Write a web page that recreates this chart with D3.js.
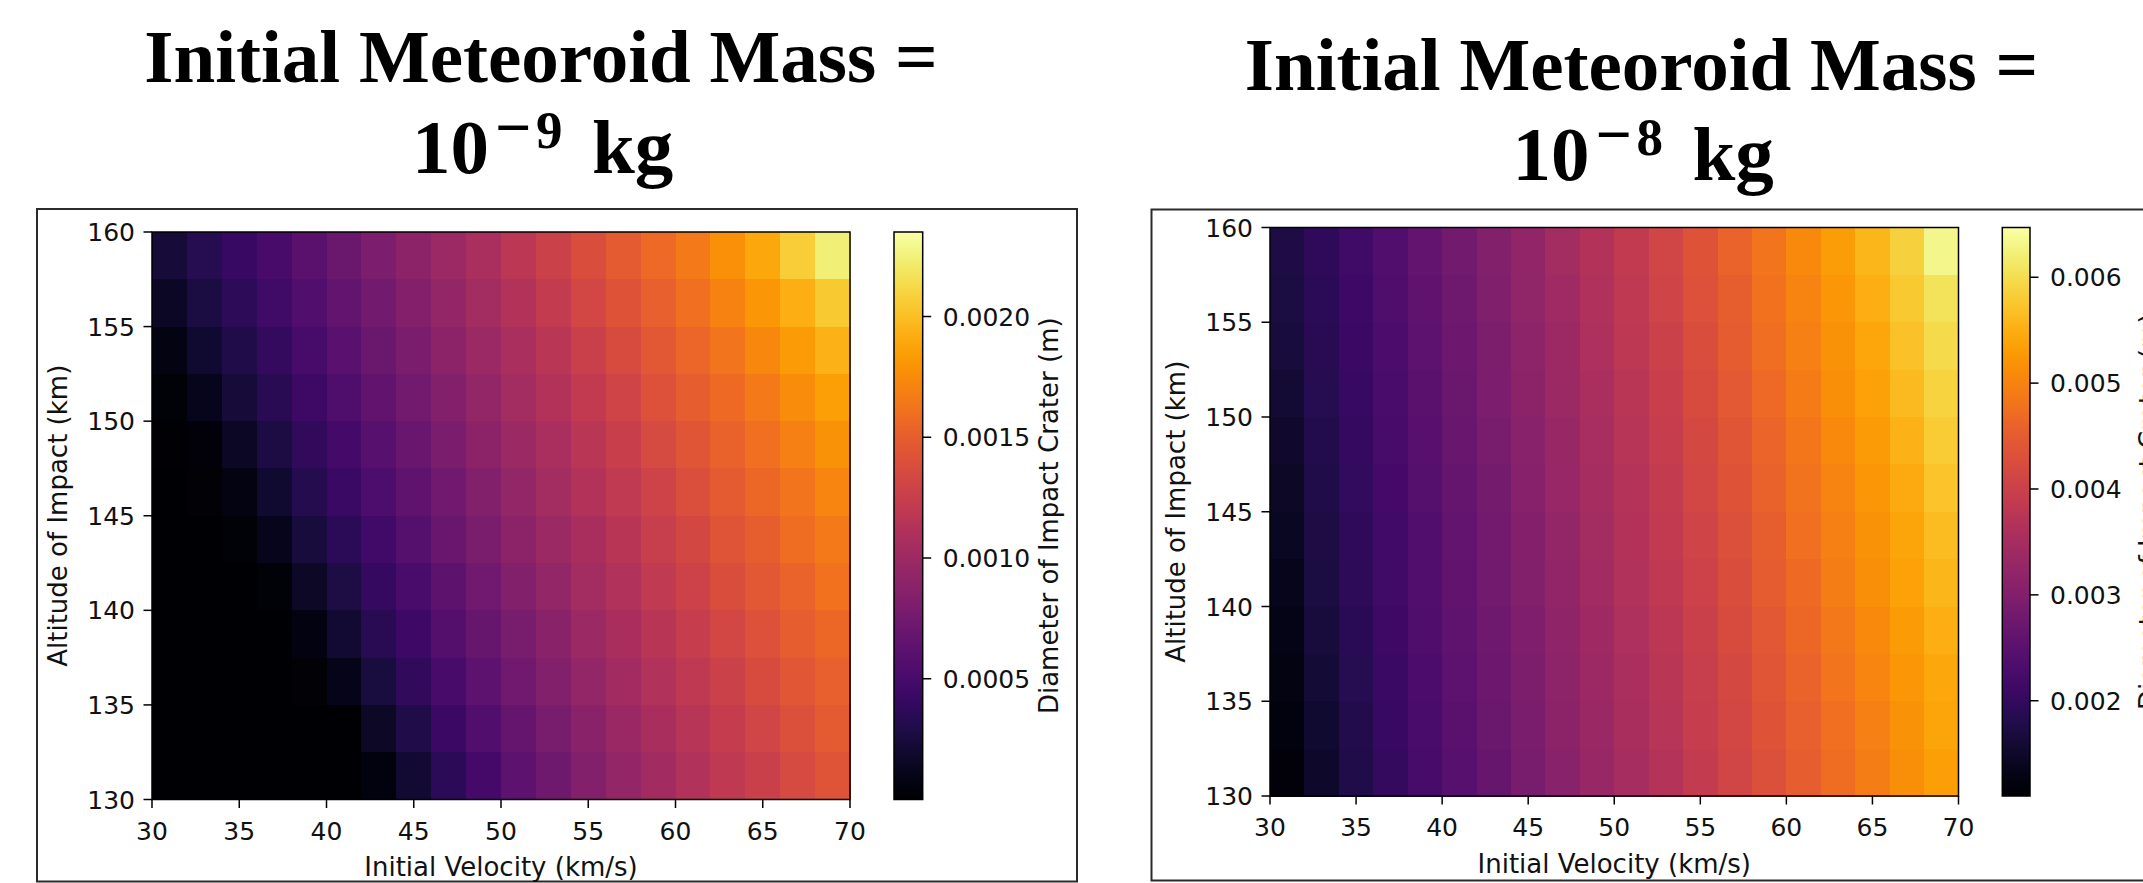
<!DOCTYPE html>
<html>
<head>
<meta charset="utf-8">
<script src="https://cdn.jsdelivr.net/npm/d3@7"></script>
<style>
  body { margin: 0; background: #fff; }
  text { font-family: "DejaVu Sans", sans-serif; fill: #111; }
  .title text { font-family: "Liberation Serif", "Times New Roman", serif; font-weight: bold; fill: #000; }
</style>
</head>
<body>
<svg id="fig" width="2143" height="883"></svg>
<script>
// cell centres of the grid (km/s and km)
const velocities = [31, 33, 35, 37, 39, 41, 43, 45, 47, 49, 51, 53, 55, 57, 59, 61, 63, 65, 67, 69];
const altitudes = [158.75, 156.25, 153.75, 151.25, 148.75, 146.25, 143.75, 141.25, 138.75, 136.25, 133.75, 131.25];

const xTicks = [30, 35, 40, 45, 50, 55, 60, 65, 70];
const yTicks = [130, 135, 140, 145, 150, 155, 160];

// crater diameter in mm, mass 1e-9 kg (one row per altitude, top to bottom)
const diamLightMM = [
  [0.235, 0.322, 0.418, 0.512, 0.609, 0.705, 0.799, 0.893, 0.987, 1.081, 1.175, 1.276, 1.379, 1.473, 1.567, 1.661, 1.777, 1.894, 2.068, 2.233],
  [0.155, 0.263, 0.362, 0.461, 0.557, 0.653, 0.750, 0.846, 0.940, 1.034, 1.126, 1.222, 1.323, 1.422, 1.511, 1.600, 1.699, 1.807, 1.922, 2.056],
  [0.080, 0.193, 0.301, 0.402, 0.503, 0.602, 0.700, 0.797, 0.893, 0.987, 1.079, 1.170, 1.269, 1.365, 1.457, 1.544, 1.631, 1.730, 1.831, 1.943],
  [0.028, 0.115, 0.233, 0.338, 0.444, 0.545, 0.646, 0.747, 0.844, 0.940, 1.032, 1.123, 1.215, 1.311, 1.405, 1.490, 1.575, 1.661, 1.758, 1.854],
  [0.012, 0.042, 0.155, 0.273, 0.381, 0.489, 0.592, 0.696, 0.794, 0.891, 0.985, 1.076, 1.166, 1.260, 1.351, 1.441, 1.523, 1.605, 1.692, 1.784],
  [0.005, 0.019, 0.075, 0.197, 0.315, 0.428, 0.536, 0.642, 0.743, 0.841, 0.940, 1.029, 1.121, 1.210, 1.302, 1.391, 1.473, 1.553, 1.631, 1.718],
  [0.002, 0.007, 0.028, 0.115, 0.240, 0.357, 0.475, 0.583, 0.691, 0.792, 0.891, 0.985, 1.074, 1.163, 1.253, 1.340, 1.426, 1.504, 1.582, 1.659],
  [0.000, 0.001, 0.002, 0.035, 0.157, 0.284, 0.407, 0.522, 0.632, 0.740, 0.839, 0.940, 1.029, 1.116, 1.206, 1.290, 1.377, 1.457, 1.532, 1.607],
  [0.000, 0.000, 0.000, 0.009, 0.068, 0.204, 0.331, 0.458, 0.571, 0.686, 0.787, 0.888, 0.985, 1.072, 1.159, 1.246, 1.330, 1.412, 1.488, 1.560],
  [0.000, 0.000, 0.000, 0.000, 0.019, 0.110, 0.249, 0.381, 0.508, 0.623, 0.736, 0.839, 0.940, 1.027, 1.114, 1.201, 1.283, 1.365, 1.443, 1.513],
  [0.000, 0.000, 0.000, 0.000, 0.000, 0.007, 0.160, 0.298, 0.437, 0.559, 0.679, 0.785, 0.888, 0.982, 1.069, 1.156, 1.238, 1.318, 1.401, 1.471],
  [0.000, 0.000, 0.000, 0.000, 0.000, 0.000, 0.061, 0.209, 0.353, 0.494, 0.616, 0.733, 0.837, 0.940, 1.025, 1.112, 1.196, 1.274, 1.354, 1.429]
];

// crater diameter in mm, mass 1e-8 kg
const diamHeavyMM = [
  [1.73, 1.94, 2.16, 2.37, 2.59, 2.80, 3.02, 3.23, 3.45, 3.66, 3.88, 4.12, 4.35, 4.60, 4.83, 5.07, 5.31, 5.58, 5.88, 6.31],
  [1.69, 1.91, 2.13, 2.34, 2.56, 2.77, 2.99, 3.20, 3.41, 3.62, 3.84, 4.08, 4.31, 4.54, 4.78, 5.01, 5.25, 5.50, 5.79, 6.07],
  [1.65, 1.87, 2.09, 2.31, 2.52, 2.74, 2.95, 3.17, 3.38, 3.59, 3.81, 4.03, 4.26, 4.49, 4.73, 4.96, 5.19, 5.42, 5.70, 5.98],
  [1.60, 1.84, 2.06, 2.28, 2.50, 2.71, 2.93, 3.14, 3.35, 3.56, 3.77, 3.99, 4.22, 4.44, 4.67, 4.90, 5.13, 5.35, 5.62, 5.89],
  [1.53, 1.80, 2.03, 2.25, 2.46, 2.68, 2.89, 3.11, 3.32, 3.53, 3.73, 3.95, 4.17, 4.39, 4.62, 4.85, 5.07, 5.29, 5.54, 5.80],
  [1.47, 1.77, 1.99, 2.22, 2.43, 2.65, 2.86, 3.08, 3.29, 3.50, 3.70, 3.91, 4.13, 4.34, 4.57, 4.80, 5.02, 5.24, 5.46, 5.72],
  [1.42, 1.73, 1.96, 2.19, 2.40, 2.61, 2.83, 3.04, 3.26, 3.46, 3.67, 3.87, 4.09, 4.30, 4.53, 4.75, 4.97, 5.18, 5.40, 5.64],
  [1.36, 1.70, 1.92, 2.15, 2.37, 2.58, 2.80, 3.01, 3.23, 3.43, 3.64, 3.84, 4.05, 4.26, 4.48, 4.70, 4.92, 5.13, 5.34, 5.57],
  [1.32, 1.66, 1.89, 2.12, 2.34, 2.55, 2.77, 2.98, 3.19, 3.40, 3.60, 3.80, 4.01, 4.22, 4.43, 4.65, 4.87, 5.07, 5.28, 5.50],
  [1.27, 1.61, 1.85, 2.08, 2.31, 2.52, 2.74, 2.95, 3.17, 3.37, 3.57, 3.77, 3.97, 4.17, 4.38, 4.60, 4.82, 5.03, 5.23, 5.43],
  [1.23, 1.56, 1.81, 2.05, 2.28, 2.49, 2.71, 2.92, 3.14, 3.34, 3.54, 3.74, 3.94, 4.13, 4.34, 4.55, 4.77, 4.98, 5.18, 5.38],
  [1.19, 1.51, 1.78, 2.01, 2.24, 2.46, 2.67, 2.89, 3.10, 3.31, 3.51, 3.70, 3.90, 4.10, 4.30, 4.51, 4.72, 4.93, 5.13, 5.33]
];

// colour ranges and colourbar ticks (m)
const lightRange = [0.0, 0.00235];
const heavyRange = [0.0011, 0.00647];
const lightCbTicks = [0.0005, 0.0010, 0.0015, 0.0020];
const heavyCbTicks = [0.002, 0.003, 0.004, 0.005, 0.006];

const svg = d3.select("#fig");

// gradient for the colourbars
const defs = svg.append("defs");
const grad = defs.append("linearGradient")
  .attr("id", "infernoGrad")
  .attr("x1", 0).attr("y1", 1).attr("x2", 0).attr("y2", 0);
d3.range(0, 1.0001, 0.02).forEach((t) => {
  grad.append("stop").attr("offset", t).attr("stop-color", d3.interpolateInferno(t));
});

function drawPanel(p) {
  const g = svg.append("g");

  // outer frame of the sub figure
  g.append("rect")
    .attr("x", p.frame[0]).attr("y", p.frame[1])
    .attr("width", p.frame[2] - p.frame[0]).attr("height", p.frame[3] - p.frame[1])
    .attr("fill", "none").attr("stroke", "#2b2b2b").attr("stroke-width", 2);

  // title, two lines (second line laid out piece by piece like mathtext)
  const title = g.append("g").attr("class", "title");
  title.append("text")
    .attr("x", p.titleX).attr("y", p.titleY[0])
    .attr("text-anchor", "middle").style("font-size", "75px")
    .text("Initial Meteoroid Mass =");
  const t2 = title.append("text").style("font-size", "77px");
  t2.append("tspan").attr("x", p.titleX - 129).attr("y", p.titleY[1]).text("10");
  t2.append("tspan").attr("x", p.titleX - 46).attr("y", p.titleY[1] - 24)
    .style("font-size", "64px").text("\u2212");
  t2.append("tspan").attr("x", p.titleX - 5).attr("y", p.titleY[1] - 25)
    .style("font-size", "53px").text(p.exponent);
  t2.append("tspan").attr("x", p.titleX + 51).attr("y", p.titleY[1]).text("kg");

  const [x0, x1, y0, y1] = p.plot;
  const x = d3.scaleLinear().domain([30, 70]).range([x0, x1]);
  const y = d3.scaleLinear().domain([130, 160]).range([y1, y0]);
  const color = d3.scaleSequential(d3.interpolateInferno).domain(p.range);

  const dv = velocities[1] - velocities[0];
  const dh = altitudes[0] - altitudes[1];

  const cells = [];
  p.data.forEach((row, i) => {
    row.forEach((mm, j) => {
      cells.push({ v: velocities[j], h: altitudes[i], d: mm / 1000 });
    });
  });

  g.append("g")
    .attr("shape-rendering", "crispEdges")
    .selectAll("rect")
    .data(cells)
    .join("rect")
    .attr("x", (d) => x(d.v - dv / 2))
    .attr("y", (d) => y(d.h + dh / 2))
    .attr("width", (d) => x(d.v + dv / 2) - x(d.v - dv / 2) + 0.5)
    .attr("height", (d) => y(d.h - dh / 2) - y(d.h + dh / 2) + 0.5)
    .attr("fill", (d) => color(d.d));

  // axes frame
  g.append("rect")
    .attr("x", x0).attr("y", y0).attr("width", x1 - x0).attr("height", y1 - y0)
    .attr("fill", "none").attr("stroke", "#000").attr("stroke-width", 1.5);

  // x ticks
  const xt = g.append("g");
  xt.selectAll("line").data(xTicks).join("line")
    .attr("x1", (d) => x(d)).attr("x2", (d) => x(d))
    .attr("y1", y1).attr("y2", y1 + 8.5)
    .attr("stroke", "#000").attr("stroke-width", 1.5);
  xt.selectAll("text").data(xTicks).join("text")
    .attr("x", (d) => x(d)).attr("y", y1 + 40)
    .attr("text-anchor", "middle").style("font-size", "25px")
    .text((d) => d);

  // y ticks
  const yt = g.append("g");
  yt.selectAll("line").data(yTicks).join("line")
    .attr("x1", x0 - 8.5).attr("x2", x0)
    .attr("y1", (d) => y(d)).attr("y2", (d) => y(d))
    .attr("stroke", "#000").attr("stroke-width", 1.5);
  yt.selectAll("text").data(yTicks).join("text")
    .attr("x", x0 - 17).attr("y", (d) => y(d))
    .attr("dy", "0.36em")
    .attr("text-anchor", "end").style("font-size", "25px")
    .text((d) => d);

  // axis labels
  g.append("text")
    .attr("x", (x0 + x1) / 2).attr("y", y1 + 76.5)
    .attr("text-anchor", "middle").style("font-size", "26px")
    .text("Initial Velocity (km/s)");
  g.append("text")
    .attr("transform", `translate(${x0 - 85},${(y0 + y1) / 2}) rotate(-90)`)
    .attr("text-anchor", "middle").style("font-size", "26px")
    .text("Altitude of Impact (km)");

  // colourbar
  const [c0, c1] = p.cbar;
  const cy = d3.scaleLinear().domain(p.range).range([y1, y0]);
  g.append("rect")
    .attr("x", c0).attr("y", y0).attr("width", c1 - c0).attr("height", y1 - y0)
    .attr("fill", "url(#infernoGrad)")
    .attr("stroke", "#000").attr("stroke-width", 1.5);
  const ct = g.append("g");
  ct.selectAll("line").data(p.cbTicks).join("line")
    .attr("x1", c1).attr("x2", c1 + 8.5)
    .attr("y1", (d) => cy(d)).attr("y2", (d) => cy(d))
    .attr("stroke", "#000").attr("stroke-width", 1.5);
  ct.selectAll("text").data(p.cbTicks).join("text")
    .attr("x", c1 + 20).attr("y", (d) => cy(d))
    .attr("dy", "0.36em").style("font-size", "25px")
    .text((d) => d3.format(p.cbFormat)(d));
  g.append("text")
    .attr("transform", `translate(${p.cbLabelX},${(y0 + y1) / 2}) rotate(-90)`)
    .attr("text-anchor", "middle").style("font-size", "26px")
    .text("Diameter of Impact Crater (m)");
}

drawPanel({
  frame: [37, 209, 1077, 881.5],
  titleX: 541, titleY: [82, 173], exponent: "9",
  plot: [152, 850, 232, 799.5],
  cbar: [894, 922.7],
  data: diamLightMM, range: lightRange,
  cbTicks: lightCbTicks, cbFormat: ".4f", cbLabelX: 1058
});

drawPanel({
  frame: [1151.5, 209.5, 2170, 880.5],
  titleX: 1641.5, titleY: [90, 180], exponent: "8",
  plot: [1270, 1958.5, 227.5, 796],
  cbar: [2002.3, 2030],
  data: diamHeavyMM, range: heavyRange,
  cbTicks: heavyCbTicks, cbFormat: ".3f", cbLabelX: 2158
});
</script>
</body>
</html>
